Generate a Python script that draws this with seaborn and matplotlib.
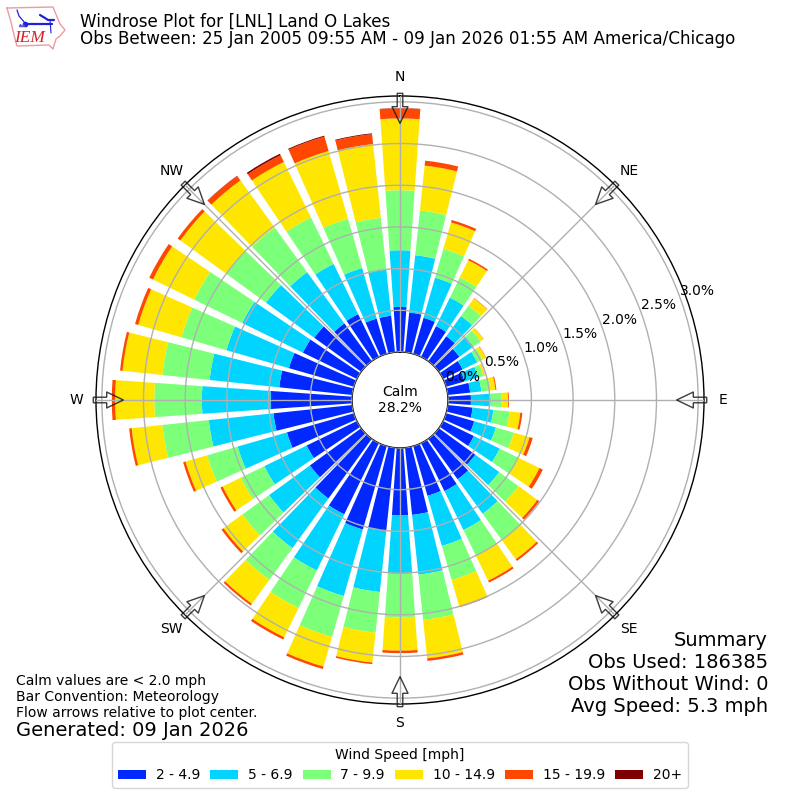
import numpy as np
import pandas as pd
import matplotlib
matplotlib.use("Agg")
import matplotlib.pyplot as plt
import seaborn as sns

# Share of observations (%) in each 10 degree direction bin, by wind speed class
directions = list(range(0, 360, 10))
speed_2_5 = [.54, .48, .45, .41, .37, .305, .26, .23, .27, .275, .30, .35, .41, .54, .60, .64, .62, .81,
             .81, 1.005, 1.04, .95, .885, .76, .67, .835, .95, .975, .88, .81, .72, .695, .56, .57, .44, .44]
speed_5_7 = [.68, .69, .50, .38, .30, .21, .195, .17, .135, .235, .25, .27, .345, .355, .51, .52, .625, .72,
             .70, .735, .83, .75, .735, .605, .565, .615, .78, .825, .84, .78, .81, .715, .76, .67, .63, .555]
speed_7_10 = [.72, .54, .36, .27, .15, .105, .07, .065, .105, .13, .195, .225, .25, .285, .39, .34, .425, .545,
              .52, .49, .51, .50, .47, .395, .315, .38, .56, .57, .57, .56, .64, .59, .66, .62, .615, .625]
speed_10_15 = [.86, .54, .33, .23, .11, .045, .045, .02, .065, .08, .13, .195, .28, .28, .285, .335, .325, .465,
               .40, .36, .37, .39, .355, .28, .24, .27, .37, .47, .48, .54, .55, .68, .70, .74, .845, .89]
speed_15_20 = [.12, .06, .03, .02, .005, .002, .005, .003, .012, .01, .025, .04, .045, .03, .025, .025, .015, .03,
               .03, .02, .03, .03, .025, .03, .03, .03, .03, .04, .03, .04, .05, .04, .065, .09, .18, .12]
speed_20_up = [.004, .0, .0, .0, .0, .0, .0, .0, .0, .0, .0, .0, .0, .0, .0, .0, .0, .0,
               .0, .0, .0, .0, .0, .0, .0, .0, .0, .0, .0, .0, .0, .0, .004, .02, .012, .01]
speed_classes = [speed_2_5, speed_5_7, speed_7_10, speed_10_15, speed_15_20, speed_20_up]
speed_labels = ["2 - 4.9", "5 - 6.9", "7 - 9.9", "10 - 14.9", "15 - 19.9", "20+"]
speed_colors = ["#0028ff", "#00d4ff", "#7cff79", "#ffe600", "#ff4700", "#7f0000"]

compass_labels = ["N", "NE", "E", "SE", "S", "SW", "W", "NW"]
percent_ticks = [0.0, 0.5, 1.0, 1.5, 2.0, 2.5, 3.0]
summary_lines = ["Summary", "Obs Used: 186385", "Obs Without Wind: 0", "Avg Speed: 5.3 mph"]

sns.set_theme(style="white", rc={"font.family": "DejaVu Sans", "axes.edgecolor": "black",
                                 "axes.linewidth": 1.0, "grid.color": "#b0b0b0",
                                 "grid.linewidth": 1.0, "text.color": "black",
                                 "xtick.color": "black", "ytick.color": "black"})
palette = sns.color_palette(speed_colors)

fig = plt.figure(figsize=(8, 8), dpi=100)
ax = fig.add_axes([96 / 800, 96 / 800, 608 / 800, 608 / 800], projection="polar")
ax.set_theta_zero_location("N")
ax.set_theta_direction(-1)

# Stacked bars, one seaborn layer per speed class
theta = np.deg2rad(directions)
base = np.zeros(len(directions))
for values, label, color in zip(speed_classes, speed_labels, palette):
    frame = pd.DataFrame({"theta": theta, "percent": values})
    sns.barplot(data=frame, x="theta", y="percent", ax=ax, native_scale=True, color=color,
                width=0.8, bottom=base, errorbar=None, saturation=1, label=label, legend=False,
                linewidth=0, zorder=2)
    base = base + np.asarray(values)

ax.set_xlabel("")
ax.set_ylabel("")
ax.set_axisbelow(False)
ax.set_rorigin(-0.5755)
ax.set_ylim(0, 3.07)
ax.set_yticks(percent_ticks)
ax.set_yticklabels([f"{p:.1f}%" for p in percent_ticks], fontsize=10)
ax.set_rlabel_position(70)
ax.set_xticks(np.deg2rad(np.arange(0, 360, 45)))
ax.set_xticklabels(compass_labels, fontsize=10)
ax.tick_params(axis="x", pad=1)
ax.grid(True, color="#b0b0b0", linewidth=1.0, zorder=3)

# Flow arrows on the compass points, pointing at the plot centre
for angle in np.arange(0, 360, 45):
    t = np.deg2rad(angle)
    ax.annotate("", xy=(t, 2.742), xytext=(t, 3.102), annotation_clip=False, zorder=6,
                arrowprops=dict(facecolor=(1, 1, 1, 0.0), edgecolor=(0.1, 0.1, 0.1, 0.85), linewidth=1.0,
                                width=4, headwidth=11.5, headlength=12, shrink=0))

# Calm share in the hole of the rose
ax.text(0, -0.5755, "Calm\n28.2%", ha="center", va="center", fontsize=10, zorder=7)

handles, labels = ax.get_legend_handles_labels()
fig.legend(handles, labels, title="Wind Speed [mph]", ncol=6, loc="center",
           bbox_to_anchor=(0.5, 1 - 765 / 800), fontsize=10, title_fontsize=10,
           frameon=True, framealpha=0.8, edgecolor="#cccccc", fancybox=True,
           columnspacing=0.75, handletextpad=0.7)

fig.text(80 / 800, 1 - 21.5 / 800, "Windrose Plot for [LNL] Land O Lakes", fontsize=12.02, va="center")
fig.text(80 / 800, 1 - 38.5 / 800, "Obs Between: 25 Jan 2005 09:55 AM - 09 Jan 2026 01:55 AM America/Chicago",
         fontsize=12.02, va="center")
fig.text(16 / 800, 1 - 697 / 800, "Calm values are < 2.0 mph\nBar Convention: Meteorology\nFlow arrows relative to plot center.",
         fontsize=10, va="center", linespacing=1.2)
fig.text(16 / 800, 1 - 730 / 800, "Generated: 09 Jan 2026", fontsize=14, va="center")
for line, y_px in zip(summary_lines, [640, 662, 684, 706]):
    fig.text(768 / 800, 1 - y_px / 800, line, fontsize=14, ha="right", va="center")

# Small state outline badge in the corner
logo = fig.add_axes([0, 1 - 56 / 800, 70 / 800, 56 / 800])
logo.set_xlim(0, 70)
logo.set_ylim(56, 0)
logo.axis("off")
outline_x = [7, 53, 55, 60, 65, 60, 56, 53, 49, 17, 14, 11, 7]
outline_y = [8, 7, 12, 24, 30, 36, 39, 49, 45, 46, 35, 22, 8]
logo.plot(outline_x, outline_y, color="#ee9aa0", linewidth=1)
logo.plot([25, 52], [24, 24], color="#2020d8", linewidth=1.6)
logo.plot([17, 19, 25], [10, 16, 23], color="#2020d8", linewidth=0.9)
logo.plot([40, 45, 48, 54], [15, 18, 20, 20], color="#2020d8", linewidth=1.6)
logo.plot([50, 51], [20, 33], color="#2020d8", linewidth=0.8)
logo.plot([25], [24], "o", color="#2020d8", markersize=3)
logo.plot([20, 23], [25, 25], "^", color="#5050d8", markersize=1.5)
logo.text(30, 38, "IEM", color="#d4202a", fontsize=12.5, style="italic", family="Liberation Serif",
          ha="center", va="center")

fig.savefig("out.png", dpi=100)
